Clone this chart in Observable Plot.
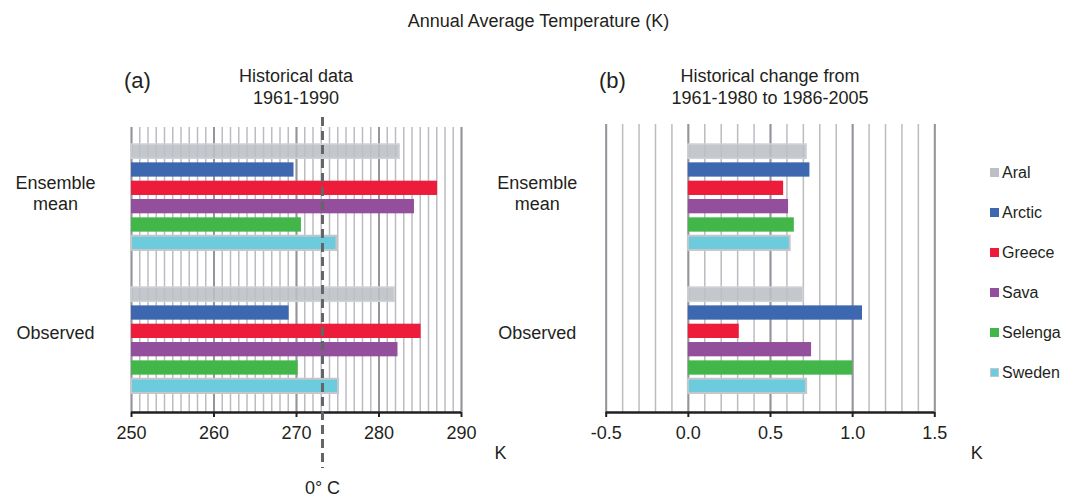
<!DOCTYPE html>
<html><head><meta charset="utf-8">
<script src="https://cdn.jsdelivr.net/npm/d3@7"></script>
<script src="https://cdn.jsdelivr.net/npm/@observablehq/plot@0.6"></script>
<style>
body{margin:0;background:#fff;}
#chart{position:relative;width:1077px;height:497px;font-family:"Liberation Sans",Arial,Helvetica,sans-serif;color:#231f20;overflow:hidden;background:#fff}
.layer{position:absolute;top:0}
.lbl{position:absolute;white-space:nowrap;text-align:center}
.leg{position:absolute;display:flex;align-items:center;font-size:16px;line-height:20px;height:20px}
.sw{width:9px;height:9px;margin-right:3px;box-sizing:border-box}
</style></head><body><div id="chart"></div><script>
// ---- data ----
const regions = ["Aral", "Arctic", "Greece", "Sava", "Selenga", "Sweden"];
const regionColors = ["#bcc0c6", "#3d68b0", "#ec1c3a", "#944f9c", "#43b649", "#6ccbdc"];
const groups = ["Ensemble mean", "Observed"];
const groupLabels = ["Ensemble\nmean", "Observed"];
const histEnsemble = [282.5, 269.7, 287.1, 284.3, 270.6, 274.9];
const histObserved = [281.9, 269.1, 285.1, 282.3, 270.2, 275.1];
const changeEnsemble = [0.72, 0.74, 0.58, 0.61, 0.645, 0.62];
const changeObserved = [0.70, 1.06, 0.31, 0.75, 1.00, 0.72];
const histTicks = [250, 260, 270, 280, 290];
const histTickLabels = ["250", "260", "270", "280", "290"];
const changeTicks = [-0.5, 0, 0.5, 1, 1.5];
const changeTickLabels = ["-0.5", "0.0", "0.5", "1.0", "1.5"];
const freezingK = 273.15;
const freezingLabel = "0° C";

function rows(ens, obs) {
  return groups.flatMap((g, gi) => regions.map((r, i) => ({group: g, region: r, value: (gi ? obs : ens)[i]})));
}

const chart = document.getElementById("chart");
const PW = 540, PH = 497;
const baseStyle = {background: "transparent", fontSize: "18px", fontFamily: '"Liberation Sans", Arial, Helvetica, sans-serif', color: "#231f20", overflow: "visible"};
function addLayer(svg, left) { svg.classList.add("layer"); svg.style.left = left + "px"; chart.appendChild(svg); }
function addLabel(html, left, top, width, fontSize, lineHeight) {
  const d = document.createElement("div");
  d.className = "lbl"; d.innerHTML = html;
  Object.assign(d.style, {left: left + "px", top: top + "px", width: width + "px", fontSize: fontSize + "px", lineHeight: lineHeight + "px"});
  chart.appendChild(d);
}

function drawPanel({panelLeft, frameLeft, frameRight, domain, minorStep, ticks, tickLabels, gridTop, labelOffset, data, base, kDx, ref}) {
  const marginLeft = frameLeft - panelLeft, marginRight = panelLeft + PW - frameRight;
  const n = Math.round((domain[1] - domain[0]) / minorStep);
  const minor = d3.range(n + 1).map(i => domain[0] + i * minorStep);
  const labelMap = new Map(ticks.map((t, i) => [t, tickLabels[i]]));
  // background: grid + axis
  addLayer(Plot.plot({
    width: PW, height: PH, marginLeft, marginRight, marginTop: gridTop, marginBottom: 85,
    style: baseStyle,
    x: {domain}, y: {domain: [0, 1], axis: null},
    marks: [
      Plot.ruleX(minor, {stroke: "#bbbbc2", strokeWidth: 1.5}),
      Plot.ruleX(ticks, {stroke: "#94949b", strokeWidth: 2}),
      Plot.ruleY([0], {stroke: "#231f20", strokeWidth: 2.5}),
      Plot.axisX({ticks, tickFormat: d => labelMap.get(d), tickSize: 5, tickPadding: 9, stroke: "#231f20", strokeWidth: 2, label: null, fontSize: 18}),
      Plot.text(["K"], {text: d => d, frameAnchor: "bottom-right", dx: kDx, dy: 41, textAnchor: "middle", lineAnchor: "middle", fontSize: 18})
    ]
  }), panelLeft);
  // bars
  const gl = new Map(groups.map((g, i) => [g, groupLabels[i]]));
  const common = {fy: "group", y: "region", x1: base, x2: "value", fill: "region"};
  const axisCommon = {anchor: "left", tickFormat: d => gl.get(d), tickSize: 0, tickPadding: labelOffset, textAnchor: "middle", lineHeight: 1.22, label: null, fontSize: 18};
  addLayer(Plot.plot({
    width: PW, height: PH, marginLeft, marginRight, marginTop: 144, marginBottom: 104,
    style: baseStyle,
    x: {domain, axis: null},
    y: {domain: regions, paddingInner: 0.22, paddingOuter: 0, round: false, axis: null},
    fy: {domain: groups, paddingInner: 0.259, paddingOuter: 0, round: false},
    color: {domain: regions, range: regionColors},
    marks: [
      Plot.barX(data, {...common, filter: d => d.region !== "Aral" && d.region !== "Sweden"}),
      Plot.barX(data, {...common, filter: d => d.region === "Aral", fillOpacity: 0.88, stroke: "#d0d2d6", strokeWidth: 1.5}),
      Plot.barX(data, {...common, filter: d => d.region === "Sweden", stroke: "#c6c7c9", strokeWidth: 2}),
      Plot.axisFy({...axisCommon, ticks: [groups[0]], dy: -5}),
      Plot.axisFy({...axisCommon, ticks: [groups[1]], dy: -9})
    ]
  }), panelLeft);
  // reference line on top
  if (ref) {
    addLayer(Plot.plot({
      width: PW, height: PH, marginLeft, marginRight, marginTop: gridTop, marginBottom: 85,
      style: baseStyle,
      x: {domain, axis: null},
      marks: [
        Plot.ruleX([ref.value], {stroke: "#646568", strokeWidth: 3, strokeDasharray: "9,5", insetTop: -10, insetBottom: -56}),
        Plot.text([ref.value], {x: d => d, text: () => ref.label, frameAnchor: "bottom", lineAnchor: "middle", dy: 75.5, fontSize: 18})
      ]
    }), panelLeft);
  }
}

drawPanel({panelLeft: 0, frameLeft: 131, frameRight: 461, domain: [histTicks[0], histTicks[histTicks.length - 1]], minorStep: 1,
  ticks: histTicks, tickLabels: histTickLabels, gridTop: 127, labelOffset: 76, data: rows(histEnsemble, histObserved),
  base: histTicks[0], kDx: 39, ref: {value: freezingK, label: freezingLabel}});
drawPanel({panelLeft: 475, frameLeft: 605.7, frameRight: 934.3, domain: [changeTicks[0], changeTicks[changeTicks.length - 1]], minorStep: 0.1,
  ticks: changeTicks, tickLabels: changeTickLabels, gridTop: 124, labelOffset: 69, data: rows(changeEnsemble, changeObserved),
  base: 0, kDx: 42, ref: null});

// titles
addLabel("Annual Average Temperature (K)", 0, 9.5, 1077, 18, 22);
addLabel("Historical data<br>1961-1990", 146, 64.7, 300, 18, 22);
addLabel("Historical change from<br>1961-1980 to 1986-2005", 620, 64.7, 300, 18, 22);
const pa = document.createElement("div"); pa.className = "lbl"; pa.textContent = "(a)";
Object.assign(pa.style, {left: "124px", top: "68px", fontSize: "22px", lineHeight: "26px", textAlign: "left"}); chart.appendChild(pa);
const pb = document.createElement("div"); pb.className = "lbl"; pb.textContent = "(b)";
Object.assign(pb.style, {left: "599px", top: "68px", fontSize: "22px", lineHeight: "26px", textAlign: "left"}); chart.appendChild(pb);

// legend
regions.forEach((r, i) => {
  const row = document.createElement("div"); row.className = "leg";
  row.style.left = "990px"; row.style.top = (172.7 + 40 * i - 10) + "px";
  const sw = document.createElement("div"); sw.className = "sw"; sw.style.background = regionColors[i];
  if (r === "Sweden") sw.style.border = "1.5px solid #c6c7c9";
  const t = document.createElement("span"); t.textContent = r;
  row.appendChild(sw); row.appendChild(t); chart.appendChild(row);
});
</script></body></html>
